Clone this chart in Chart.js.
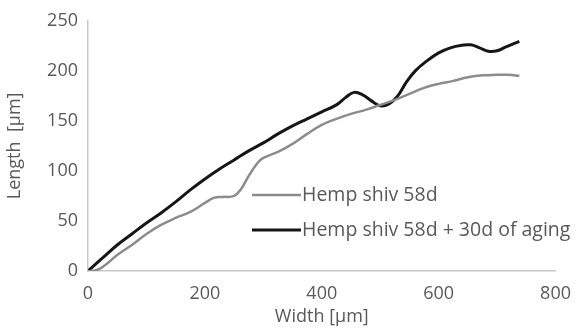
<!DOCTYPE html>
<html>
<head>
<meta charset="utf-8">
<script src="https://cdn.jsdelivr.net/npm/chart.js@4/dist/chart.umd.min.js"></script>
<style>
html,body{margin:0;padding:0;background:#fff;}
#wrap{width:583px;height:331px;position:relative;}
</style>
</head>
<body>
<div id="wrap"><canvas id="c" width="583" height="331"></canvas></div>
<script>
const seriesLabels = ["Hemp shiv 58d", "Hemp shiv 58d + 30d of aging"];
const grayX = [0,12,25,50,75,100,125,150,175,200,215,230,250,262,275,290,300,325,350,375,400,425,450,475,500,525,550,575,600,625,650,675,700,720,738];
const grayY = [0,0.5,4,16,26,37,46,53,59,68,73,74,75,82,95,108,113,119,127,137,146,152,157,161,166,171,177,183,187,190,193.5,195.5,196,196,195];
const blackX = [0,25,50,75,100,125,150,175,200,225,250,275,300,325,350,375,400,425,440,455,470,485,500,515,530,545,560,580,600,620,640,655,670,685,700,715,738];
const blackY = [0,13,26,37,48,58,69,81,92,102,111,120,128,137,145,152,159,166,173,178.5,176,170,165,167,175,189,200,210,218,223,225.5,226,223,219.5,220,224,229.5];
const xTicks = [0,200,400,600,800];
const yTicks = [0,50,100,150,200,250];
const xTitle = "Width [µm]";
const yTitle = "Length  [µm]";

const toPts = (xs, ys) => xs.map((x, i) => ({x: x, y: ys[i]}));
const FONT = "'Open Sans', 'Noto Sans', sans-serif";
const TXT = "#595959";

const legendPlugin = {
  id: 'insideLegend',
  afterDraw(chart) {
    const ctx = chart.ctx;
    const ds = chart.data.datasets;
    const x0 = 252, x1 = 301, tx = 302;
    const ys = [195, 230];
    ctx.save();
    ctx.font = "19.5px " + FONT;
    ctx.textBaseline = 'middle';
    ctx.textAlign = 'left';
    ds.forEach((d, i) => {
      ctx.strokeStyle = d.borderColor;
      ctx.lineWidth = d.borderWidth;
      ctx.beginPath();
      ctx.moveTo(x0, ys[i]);
      ctx.lineTo(x1, ys[i]);
      ctx.stroke();
      ctx.fillStyle = TXT;
      ctx.fillText(d.label, tx, ys[i]);
    });
    ctx.restore();
  }
};

new Chart(document.getElementById('c'), {
  type: 'line',
  data: {
    datasets: [
      {label: seriesLabels[0], data: toPts(grayX, grayY), borderColor: '#8c8c8c', borderWidth: 2.5, pointRadius: 0, tension: 0.4, fill: false},
      {label: seriesLabels[1], data: toPts(blackX, blackY), borderColor: '#161616', borderWidth: 3, pointRadius: 0, tension: 0.4, fill: false}
    ]
  },
  options: {
    responsive: false,
    animation: false,
    events: [],
    layout: {padding: {top: 15, right: 25, left: 0, bottom: 0}},
    plugins: {legend: {display: false}, tooltip: {enabled: false}},
    scales: {
      x: {
        type: 'linear', min: 0, max: 800,
        afterBuildTicks: s => { s.ticks = xTicks.map(v => ({value: v})); },
        afterFit: s => { s.height = 60; },
        grid: {display: false, drawTicks: false},
        border: {display: true, color: '#c8c8c8', width: 1.5},
        ticks: {color: TXT, font: {family: FONT, size: 18}, padding: 12, maxRotation: 0},
        title: {display: true, text: xTitle, color: TXT, font: {family: FONT, size: 18}, padding: {top: 0, bottom: 3}}
      },
      y: {
        type: 'linear', min: 0, max: 250,
        afterBuildTicks: s => { s.ticks = yTicks.map(v => ({value: v})); },
        afterFit: s => { s.width = 88; },
        grid: {display: false, drawTicks: false},
        border: {display: true, color: '#c8c8c8', width: 1.5},
        ticks: {color: TXT, font: {family: FONT, size: 18}, padding: 10},
        title: {display: true, text: yTitle, color: TXT, font: {family: FONT, size: 18}, padding: {top: 4, bottom: 2}}
      }
    }
  },
  plugins: [legendPlugin]
});
</script>
</body>
</html>
